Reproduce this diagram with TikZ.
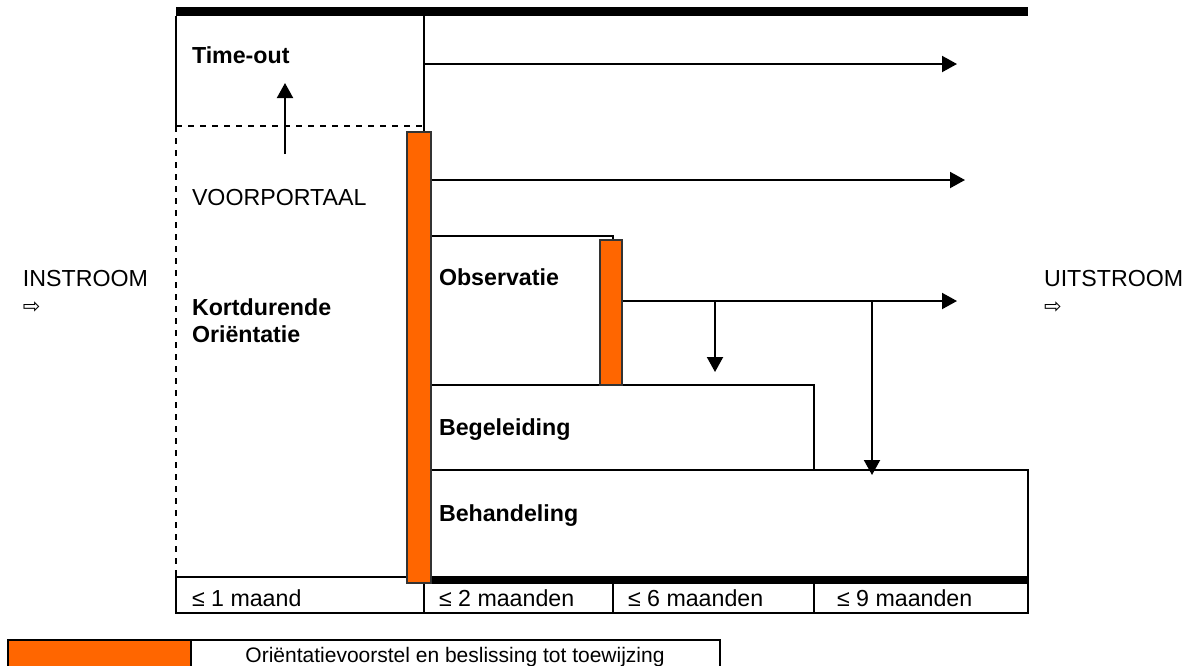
\documentclass[tikz,border=0pt]{standalone}
\usepackage{fontspec}
\setmainfont{Liberation Sans}
\newfontfamily\pijlfont{DejaVu Sans}
\usetikzlibrary{arrows.meta}
\definecolor{oranje}{HTML}{FF6600}
\definecolor{rand}{HTML}{333333}

\begin{document}
\begin{tikzpicture}[x=0.5pt,y=-0.5pt,line width=1pt]
\tikzstyle{every node}+=[inner sep=0pt,anchor=base west,font=\fontsize{11.6}{13.3}\selectfont]
\tikzstyle{kop}=[font=\fontsize{11.6}{13.3}\selectfont\bfseries,align=left]
\tikzstyle{balk}=[draw=rand,fill=oranje,line width=0.6pt,anchor=center,minimum width=12pt]
\tikzstyle{pijl}=[-{Triangle[length=7.5pt,width=8pt]}]
\clip (0,0) rectangle (1193,665);
\fill (176,7) rectangle (1028,16);
\draw (176,16) -- (176,126);
\draw (424,16) -- (424,132);
\draw [dashed] (176,126) -- (424,126);
\draw [dashed] (176,126) -- (176,577);
\draw (431,236) -- (613,236) -- (613,240);
\draw (431,385) -- (814,385) -- (814,470);
\draw (431,470) -- (1028,470) -- (1028,577);
\draw (176,577) rectangle (1028,613);
\draw (424,577) -- (424,613);
\draw (613,577) -- (613,613);
\draw (814,577) -- (814,613);
\fill (424,576) rectangle (1028,584);
\node [balk,minimum height=225.5pt] (or1) at (419,357.5) {};
\node [balk,minimum width=11pt,minimum height=72.5pt] (or2) at (611,312.5) {};
\node [kop] (timeout) at (191,63) {Time-out};
\node (voor) at (191,205) {VOORPORTAAL};
\node [kop] (kort) at (191,342) {Kortdurende\\Oriëntatie};
\node [kop] (obs) at (438,285) {Observatie};
\node [kop] (beg) at (438,435) {Begeleiding};
\node [kop] (beh) at (438,521) {Behandeling};
\node [align=left] (in) at (22,313) {INSTROOM\\{\pijlfont\fontsize{10.5}{12}\selectfont ⇨}};
\node [align=left] (uit) at (1043,313) {UITSTROOM\\{\pijlfont\fontsize{10.5}{12}\selectfont ⇨}};
\node (m1) at (191,606) {≤ 1 maand};
\node (m2) at (438,606) {≤ 2 maanden};
\node (m6) at (627,606) {≤ 6 maanden};
\node (m9) at (836,606) {≤ 9 maanden};
\coordinate (u1) at (285,154);
\coordinate (u2) at (285,83);
\draw [pijl] (u1) -- (u2);
\coordinate (t1) at (424,64);
\coordinate (t2) at (957,64);
\draw [pijl] (t1) -- (t2);
\coordinate (v2) at (965,180);
\draw [pijl] (or1.east |- v2) -- (v2);
\coordinate (o2) at (957,301);
\draw [pijl] (or2.east |- o2) -- (o2);
\coordinate (s1) at (715,301);
\coordinate (s1e) at (715,372);
\draw [pijl] (s1) -- (s1e);
\coordinate (s2) at (872,301);
\coordinate (s2e) at (872,475);
\draw [pijl] (s2) -- (s2e);
\fill [oranje] (8,640) rectangle (191,672);
\draw (8,640) rectangle (720,672);
\draw (191,640) -- (191,672);
\node [anchor=base,font=\fontsize{10.5}{12}\selectfont] (leg) at (455,662) {Oriëntatievoorstel en beslissing tot toewijzing};
\end{tikzpicture}
\end{document}
